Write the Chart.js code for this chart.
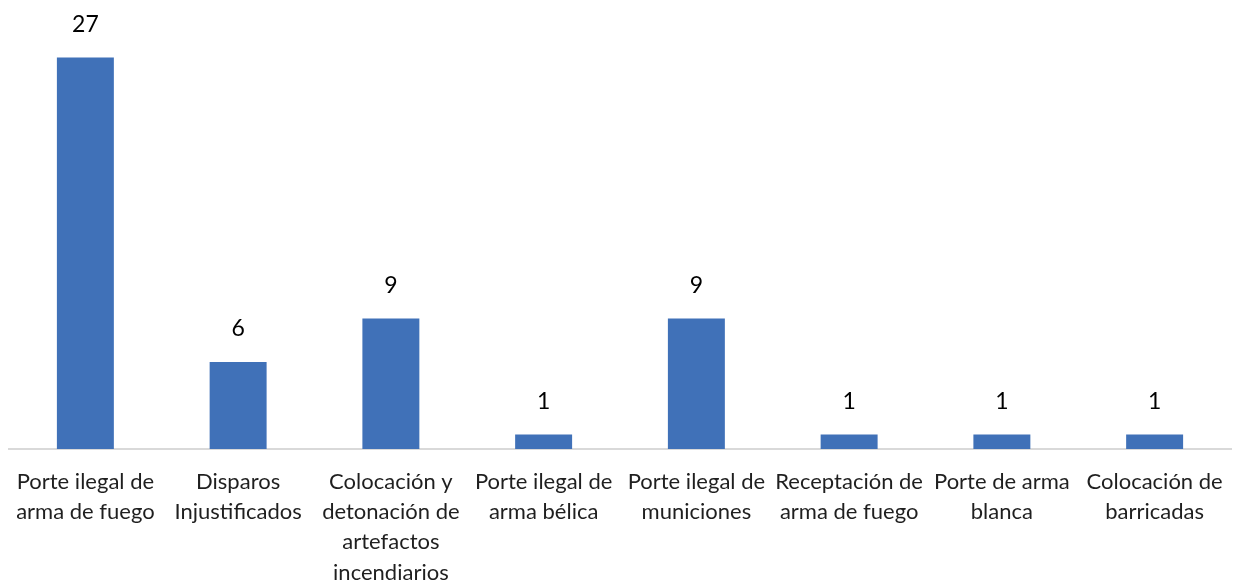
<!DOCTYPE html>
<html>
<head>
<meta charset="utf-8">
<script src="https://cdn.jsdelivr.net/npm/chart.js@4.4.1/dist/chart.umd.min.js"></script>
<style>
html,body{margin:0;padding:0;background:#fff;}
#wrap{width:1233px;height:583px;position:relative;}
</style>
</head>
<body>
<div id="wrap"><canvas id="c" width="1233" height="583"></canvas></div>
<script>
const categories = [
  ["Porte ilegal de", "arma de fuego"],
  ["Disparos", "Injustificados"],
  ["Colocación y", "detonación de", "artefactos", "incendiarios"],
  ["Porte ilegal de", "arma bélica"],
  ["Porte ilegal de", "municiones"],
  ["Receptación de", "arma de fuego"],
  ["Porte de arma", "blanca"],
  ["Colocación de", "barricadas"]
];
const values = [27, 6, 9, 1, 9, 1, 1, 1];
const yMax = 30;

const FONT = "Lato, 'Noto Sans', sans-serif";

const valueLabels = {
  id: 'valueLabels',
  afterDatasetsDraw(chart) {
    const ctx = chart.ctx;
    const meta = chart.getDatasetMeta(0);
    ctx.save();
    ctx.font = "23px " + FONT;
    ctx.fillStyle = "#000000";
    ctx.textAlign = "center";
    ctx.textBaseline = "alphabetic";
    meta.data.forEach((bar, i) => {
      ctx.fillText(String(values[i]), bar.x, bar.y - 26);
    });
    ctx.restore();
  }
};

new Chart(document.getElementById('c'), {
  type: 'bar',
  data: {
    labels: categories,
    datasets: [{
      data: values,
      backgroundColor: '#4071b8',
      borderWidth: 0,
      categoryPercentage: 1,
      barPercentage: 0.373
    }]
  },
  options: {
    responsive: false,
    animation: false,
    layout: { padding: { left: 9, right: 2, top: 14, bottom: 0 } },
    plugins: { legend: { display: false }, tooltip: { enabled: false } },
    scales: {
      x: {
        grid: { display: false, drawTicks: false },
        border: { display: true, color: '#d9d9d9', width: 2 },
        ticks: {
          color: '#1f1f1f',
          font: { family: FONT, size: 22, lineHeight: 1.37 },
          maxRotation: 0,
          minRotation: 0,
          autoSkip: false,
          padding: 18
        },
        afterFit(scale) { scale.height = 134; scale.paddingLeft = 0; scale.paddingRight = 0; }
      },
      y: {
        display: false,
        min: 0,
        max: yMax
      }
    }
  },
  plugins: [valueLabels]
});
</script>
</body>
</html>
